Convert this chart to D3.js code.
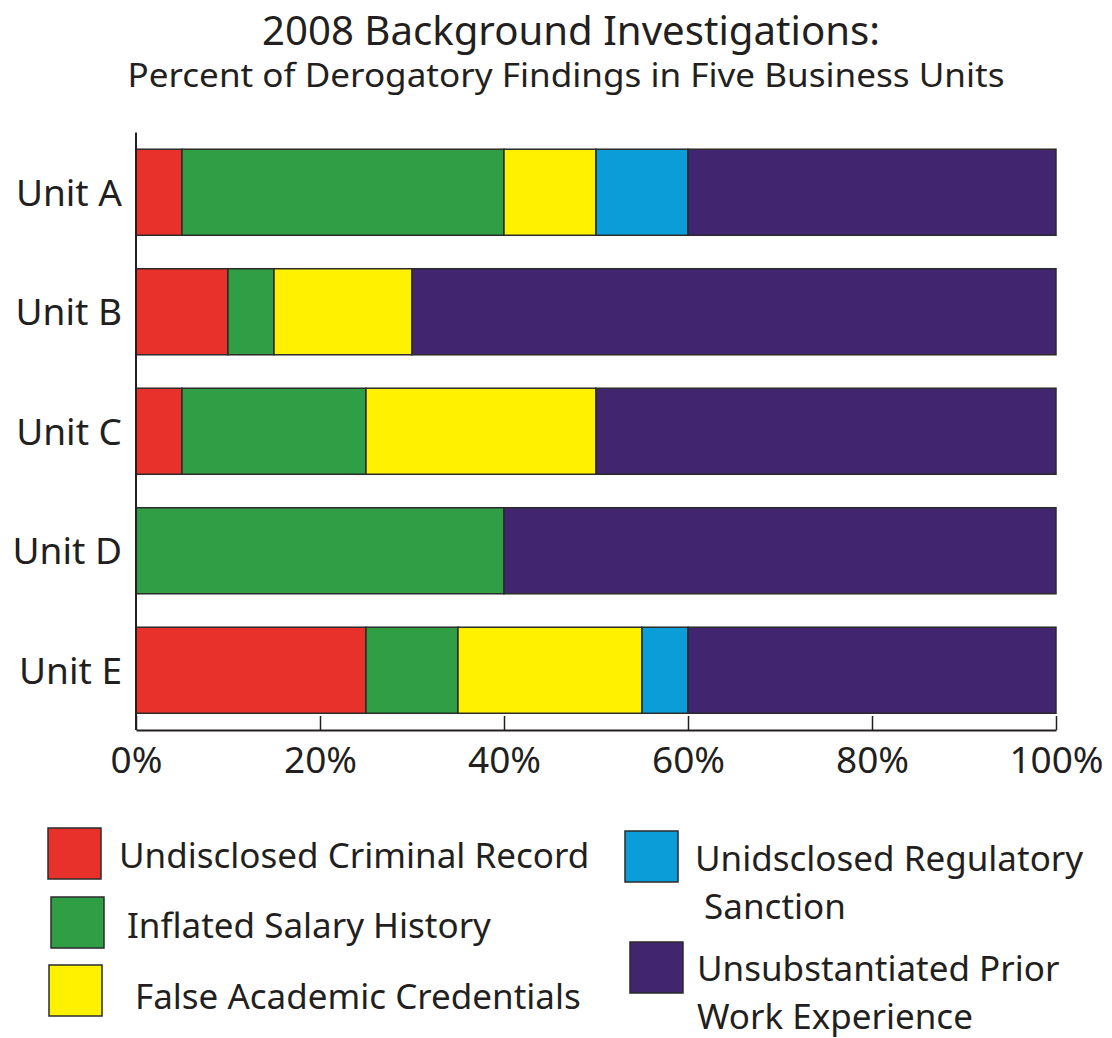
<!DOCTYPE html>
<html>
<head>
<meta charset="utf-8">
<script src="https://cdn.jsdelivr.net/npm/d3@7"></script>
<style>
  body { margin: 0; background: #fff; }
  text { font-family: "Noto Sans", "Open Sans", sans-serif; fill: #231f20; }
</style>
</head>
<body>
<script>
// data (percent of findings per unit)
var units = ['Unit A', 'Unit B', 'Unit C', 'Unit D', 'Unit E']
var criminal = [5, 10, 5, 0, 25]
var salary = [35, 5, 20, 40, 10]
var academic = [10, 15, 25, 0, 20]
var regulatory = [10, 0, 0, 0, 5]
var workExp = [40, 70, 50, 60, 40]
var seriesNames = ['Undisclosed Criminal Record', 'Inflated Salary History', 'False Academic Credentials',
  'Unidsclosed Regulatory Sanction', 'Unsubstantiated Prior Work Experience']
var colors = ['#e8312a', '#2f9e44', '#fff100', '#0b9dd8', '#42256f']
var xTicks = [0, 20, 40, 60, 80, 100]

var width = 1112, height = 1038

var svg = d3.select('body').append('svg')
  .attr('width', width)
  .attr('height', height)

// title
svg.append('text')
  .attr('x', 571).attr('y', 45)
  .attr('text-anchor', 'middle')
  .style('font-size', '40px')
  .attr('textLength', 618).attr('lengthAdjust', 'spacingAndGlyphs')
  .text('2008 Background Investigations:')
svg.append('text')
  .attr('x', 566).attr('y', 87)
  .attr('text-anchor', 'middle')
  .style('font-size', '33px')
  .attr('textLength', 877).attr('lengthAdjust', 'spacingAndGlyphs')
  .text('Percent of Derogatory Findings in Five Business Units')

var rows = units.map(function(u, i) {
  return {unit: u, vals: [criminal[i], salary[i], academic[i], regulatory[i], workExp[i]]}
})
var stack = d3.stack()
  .keys(d3.range(5))
  .value(function(d, k) { return d.vals[k] })
var layers = stack(rows)

var x = d3.scaleLinear().domain([0, 100]).range([136, 1056])
var y = d3.scaleBand().domain(units).range([132.5, 730]).paddingInner(0.28).paddingOuter(0.14)

svg.append('g')
  .selectAll('g')
  .data(layers)
  .enter().append('g')
  .attr('fill', function(d) { return colors[d.key] })
  .selectAll('rect')
  .data(function(d) { return d.filter(function(s) { return s[1] - s[0] > 0 }) })
  .enter().append('rect')
  .attr('x', function(d) { return x(d[0]) })
  .attr('y', function(d) { return y(d.data.unit) })
  .attr('width', function(d) { return x(d[1]) - x(d[0]) })
  .attr('height', y.bandwidth())
  .attr('stroke', '#2b2b2b')
  .attr('stroke-width', 1.5)

// axes
var xAxis = svg.append('g')
  .attr('transform', 'translate(0,730)')
  .call(d3.axisBottom(x).tickValues(xTicks).tickSize(-14).tickSizeOuter(0)
    .tickFormat(function(d) { return d + '%' }))
xAxis.select('.domain').attr('stroke', '#231f20').attr('stroke-width', 2)
xAxis.selectAll('.tick line').attr('stroke', '#231f20').attr('stroke-width', 1.5)
xAxis.selectAll('.tick text')
  .attr('y', 43).attr('dy', 0)
  .style('font-size', '37px')
  .attr('fill', '#231f20')

var yAxis = svg.append('g')
  .attr('transform', 'translate(136,0)')
  .call(d3.axisLeft(y).tickSize(0).tickSizeOuter(0).tickPadding(14))
yAxis.select('.domain').attr('stroke', '#231f20').attr('stroke-width', 2)
yAxis.selectAll('.tick text')
  .style('font-size', '37px')
  .attr('dy', '0.36em')
  .attr('fill', '#231f20')
yAxis.select('.domain').attr('d', 'M0,132.5V730')

// legend
var legendItems = [
  {i: 0, sx: 48, sy: 828, lines: ['Undisclosed Criminal Record'], tx: 119, ty: 868},
  {i: 1, sx: 51, sy: 897, lines: ['Inflated Salary History'], tx: 127, ty: 938},
  {i: 2, sx: 49, sy: 965, lines: ['False Academic Credentials'], tx: 135, ty: 1009},
  {i: 3, sx: 625, sy: 831, lines: ['Unidsclosed Regulatory', ' Sanction'], tx: 695, ty: 871},
  {i: 4, sx: 630, sy: 942, lines: ['Unsubstantiated Prior', 'Work Experience'], tx: 697, ty: 981}
]
var lg = svg.append('g').selectAll('g')
  .data(legendItems)
  .enter().append('g')
lg.append('rect')
  .attr('x', function(d) { return d.sx })
  .attr('y', function(d) { return d.sy })
  .attr('width', 53).attr('height', 51)
  .attr('fill', function(d) { return colors[d.i] })
  .attr('stroke', '#2b2b2b').attr('stroke-width', 1.5)
lg.append('text')
  .attr('x', function(d) { return d.tx })
  .attr('y', function(d) { return d.ty })
  .style('font-size', '35px')
  .style('white-space', 'pre')
  .selectAll('tspan')
  .data(function(d) { return d.lines.map(function(l) { return {l: l, x: d.tx} }) })
  .enter().append('tspan')
  .attr('x', function(d) { return d.x })
  .attr('dy', function(d, j) { return j ? 48 : 0 })
  .text(function(d) { return d.l })
</script>
</body>
</html>
